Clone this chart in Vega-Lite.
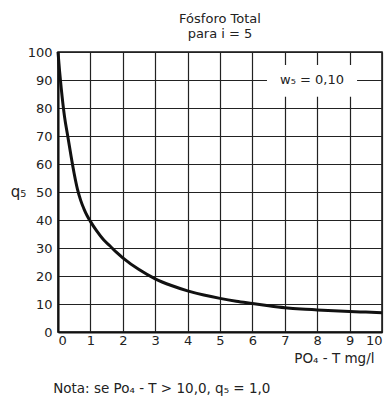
{
  "$schema": "https://vega.github.io/schema/vega-lite/v6.json",
  "width": 324,
  "height": 280,
  "autosize": "none",
  "padding": {"left": 58, "top": 52, "right": 10, "bottom": 68},
  "background": "white",
  "config": {
    "font": "DejaVu Sans",
    "view": {"stroke": "#111", "strokeWidth": 1.5},
    "axis": {
      "labelFont": "DejaVu Sans", "titleFont": "DejaVu Sans",
      "tickCount": 10, "labelOverlap": false,
      "grid": true, "gridColor": "#222", "gridWidth": 1.2, "gridOpacity": 1,
      "ticks": false, "labelFontSize": 13, "labelColor": "#222",
      "domainColor": "#111", "domainWidth": 2,
      "titleFontWeight": "normal", "titleColor": "#222"
    },
    "axisX": {
      "labelPadding": 2, "titleFontSize": 13.5, "titleAlign": "right", "titleAnchor": "end",
      "titleX": 316, "titleY": 26, "titleBaseline": "middle"
    },
    "axisY": {
      "labelPadding": 6, "titleFontSize": 15, "titleAngle": 0, "titleAlign": "center",
      "titleBaseline": "middle", "titleX": -40, "titleY": 139
    }
  },
  "title": {
    "text": ["Fósforo Total", "para i = 5"],
    "anchor": "middle",
    "fontSize": 13,
    "fontWeight": "normal",
    "color": "#222",
    "offset": 5,
    "lineHeight": 15
  },
  "datasets": {
    "curve": [
      {"x": 0, "q": 100}, {"x": 0.05, "q": 93}, {"x": 0.1, "q": 87}, {"x": 0.2, "q": 77},
      {"x": 0.3, "q": 70}, {"x": 0.4, "q": 63}, {"x": 0.5, "q": 56.5}, {"x": 0.6, "q": 51},
      {"x": 0.7, "q": 47}, {"x": 0.8, "q": 44}, {"x": 0.9, "q": 41.5}, {"x": 1.0, "q": 39.5},
      {"x": 1.2, "q": 36}, {"x": 1.4, "q": 33}, {"x": 1.6, "q": 30.8}, {"x": 1.8, "q": 28.5},
      {"x": 2.0, "q": 26.5}, {"x": 2.5, "q": 22.3}, {"x": 3.0, "q": 19}, {"x": 3.5, "q": 16.6},
      {"x": 4.0, "q": 14.7}, {"x": 4.5, "q": 13.2}, {"x": 5.0, "q": 12}, {"x": 5.5, "q": 11},
      {"x": 6.0, "q": 10.2}, {"x": 6.5, "q": 9.4}, {"x": 7.0, "q": 8.7}, {"x": 7.5, "q": 8.2},
      {"x": 8.0, "q": 7.9}, {"x": 8.5, "q": 7.6}, {"x": 9.0, "q": 7.3}, {"x": 9.5, "q": 7.1},
      {"x": 10.0, "q": 6.9}
    ],
    "labels": [
      {"label": "w₅ = 0,10", "note": "Nota: se Po₄ - T > 10,0,   q₅ = 1,0"}
    ]
  },
  "layer": [
    {
      "data": {"name": "curve"},
      "mark": {"type": "line", "color": "#111", "strokeWidth": 3, "interpolate": "monotone"},
      "encoding": {
        "x": {
          "field": "x", "type": "quantitative",
          "scale": {"domain": [0, 10], "nice": false},
          "axis": {"title": "PO₄ - T   mg/l"}
        },
        "y": {
          "field": "q", "type": "quantitative",
          "scale": {"domain": [0, 100], "nice": false},
          "axis": {"title": "q₅"}
        }
      }
    },
    {
      "data": {"name": "labels"},
      "mark": {"type": "rect", "color": "white"},
      "encoding": {
        "x": {"datum": 6.45, "type": "quantitative", "axis": {"title": "PO₄ - T   mg/l"}},
        "x2": {"datum": 9.23},
        "y": {"datum": 84, "type": "quantitative", "axis": {"title": "q₅"}},
        "y2": {"datum": 95.4}
      }
    },
    {
      "data": {"name": "labels"},
      "mark": {"type": "text", "fontSize": 13, "color": "#222", "align": "center", "baseline": "middle"},
      "encoding": {
        "x": {"datum": 7.84, "type": "quantitative", "axis": {"title": "PO₄ - T   mg/l"}},
        "y": {"datum": 90, "type": "quantitative", "axis": {"title": "q₅"}},
        "text": {"field": "label"}
      }
    },
    {
      "data": {"name": "labels"},
      "mark": {"type": "text", "fontSize": 13.5, "color": "#222", "align": "left", "baseline": "middle"},
      "encoding": {
        "x": {"datum": -0.15, "type": "quantitative", "axis": {"title": "PO₄ - T   mg/l"}},
        "y": {"datum": -20.5, "type": "quantitative", "axis": {"title": "q₅"}},
        "text": {"field": "note"}
      }
    }
  ]
}
